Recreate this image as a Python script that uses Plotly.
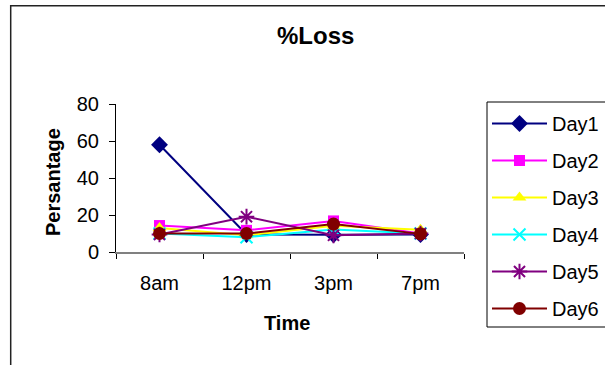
import plotly.graph_objects as go

times = ["8am", "12pm", "3pm", "7pm"]
day1 = [58, 9.5, 9.3, 9.5]
day2 = [14.3, 11.7, 16.8, 10]
day3 = [13, 9, 14.2, 12]
day4 = [10, 8, 12.2, 10]
day5 = [9.5, 19.1, 9, 10]
day6 = [10, 10, 15.1, 9.8]

series = [
    ("Day1", day1, "#000080", "diamond", 13, None),
    ("Day2", day2, "#FF00FF", "square", 11, None),
    ("Day3", day3, "#FFFF00", "triangle-up", 12, None),
    ("Day4", day4, "#00FFFF", "x-thin", 12, 2),
    ("Day5", day5, "#800080", "asterisk", 13, 2),
    ("Day6", day6, "#800000", "circle", 13, None),
]

W, H = 605, 365
L, R, T, B = 116, 141, 104, 113
pw, ph = W - L - R, H - T - B

def px(x):
    return (x - L) / pw

def py(y):
    return (H - B - y) / ph

FONT = "Liberation Sans, Arial, sans-serif"

fig = go.Figure()
for i, (name, vals, color, sym, size, lw) in enumerate(series):
    marker = dict(symbol=sym, size=size, color=color)
    if lw:
        marker["line"] = dict(color=color, width=lw)
    fig.add_trace(go.Scatter(
        x=times, y=vals, name=name, mode="lines+markers",
        line=dict(color=color, width=2), marker=marker,
        legendgroup=f"g{i}",
    ))

fig.update_layout(
    width=W, height=H,
    margin=dict(l=L, r=R, t=T, b=B, autoexpand=False),
    paper_bgcolor="white", plot_bgcolor="white",
    font=dict(family=FONT, size=20, color="black"),
    showlegend=True,
    legend=dict(
        x=px(487), y=py(104), xanchor="left", yanchor="top",
        bgcolor="rgba(0,0,0,0)", borderwidth=0,
        font=dict(family=FONT, size=20, color="black"),
        tracegroupgap=8, itemwidth=55, maxheight=320,
    ),
    xaxis=dict(
        type="category", range=[-0.5, 3.5], showgrid=False, zeroline=False,
        showline=True, linecolor="#808080", linewidth=2,
        ticks="outside", ticklen=5, tickcolor="black", tickwidth=1,
        tickson="boundaries", ticklabelstandoff=12,
        tickfont=dict(family=FONT, size=20, color="black"),
    ),
    yaxis=dict(
        range=[0, 80], dtick=20, tick0=0, showgrid=False, zeroline=False,
        showline=True, linecolor="black", linewidth=1,
        ticks="outside", ticklen=6, tickcolor="black",
        ticklabelstandoff=6,
        tickfont=dict(family=FONT, size=20, color="black"),
    ),
    annotations=[
        dict(text="<b>%Loss</b>", x=px(315), y=py(35), xref="paper", yref="paper",
             showarrow=False, font=dict(family=FONT, size=24, color="black"),
             xanchor="center", yanchor="middle"),
        dict(text="<b>Time</b>", x=px(287), y=py(323), xref="paper", yref="paper",
             showarrow=False, font=dict(family=FONT, size=20, color="black"),
             xanchor="center", yanchor="middle"),
        dict(text="<b>Persantage</b>", x=px(53), y=py(182), xref="paper", yref="paper",
             showarrow=False, textangle=-90, font=dict(family=FONT, size=20, color="black"),
             xanchor="center", yanchor="middle"),
    ],
    shapes=[
        dict(type="rect", xref="paper", yref="paper",
             x0=px(10.7), x1=px(640), y0=py(5.7), y1=py(400),
             line=dict(color="#222222", width=1.5), fillcolor="rgba(0,0,0,0)", layer="below"),
        dict(type="rect", xref="paper", yref="paper",
             x0=px(487), x1=px(640), y0=py(102), y1=py(327),
             line=dict(color="black", width=1), fillcolor="rgba(0,0,0,0)", layer="below"),
    ],
)

fig.write_html("out.html")
